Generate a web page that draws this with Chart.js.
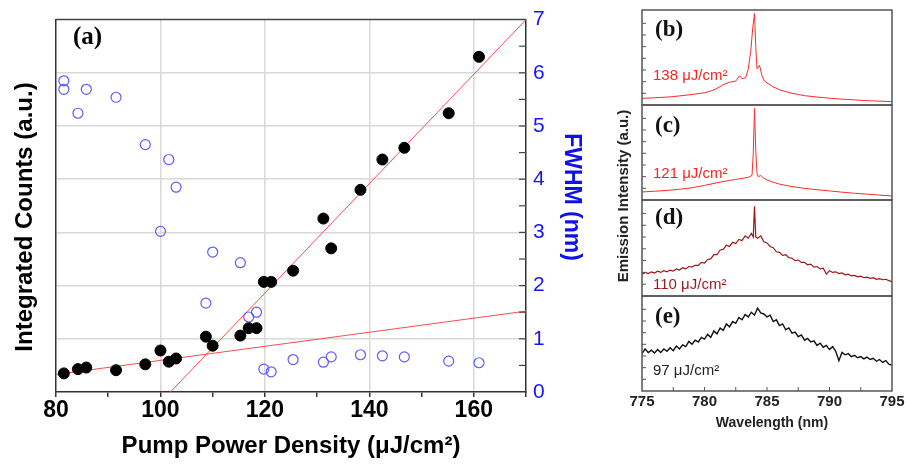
<!DOCTYPE html>
<html>
<head>
<meta charset="utf-8">
<script src="https://cdn.jsdelivr.net/npm/chart.js@4.4.1/dist/chart.umd.min.js"></script>
<style>
html, body { margin: 0; padding: 0; background: #fff; width: 906px; height: 466px; overflow: hidden; }
.box { position: absolute; }
#ytitle { position: absolute; left: 523px; top: 187px; width: 200px; height: 18px; line-height: 18px;
  text-align: center; font: bold 15px Arial, "Liberation Sans", sans-serif; color: #222; transform: rotate(-90deg); }
</style>
</head>
<body>
<div class="box" style="left:0;top:0;width:600px;height:466px"><canvas id="main"></canvas></div>
<div class="box" style="left:622px;top:4px;width:290px;height:107px"><canvas id="pb"></canvas></div>
<div class="box" style="left:622px;top:99px;width:290px;height:107px"><canvas id="pc"></canvas></div>
<div class="box" style="left:622px;top:194px;width:290px;height:108px"><canvas id="pd"></canvas></div>
<div class="box" style="left:622px;top:290px;width:290px;height:176px"><canvas id="pe"></canvas></div>
<div id="ytitle">Emission Intensity (a.u.)</div>
<script>
// ---- panel (a): threshold data ----
var pumpBlack = [81.5, 84.2, 85.8, 91.5, 97.1, 100.0, 101.6, 103.0, 108.7, 110.0, 115.3, 116.9, 118.4, 119.8, 121.2, 125.4, 131.2, 132.7, 138.3, 142.5, 146.7, 155.2, 161.0];
var counts    = [0.35, 0.43, 0.46, 0.41, 0.52, 0.78, 0.57, 0.63, 1.04, 0.87, 1.06, 1.20, 1.20, 2.07, 2.07, 2.28, 3.26, 2.70, 3.80, 4.37, 4.59, 5.24, 6.30];
var pumpBlue  = [81.5, 81.5, 84.2, 85.8, 91.5, 97.1, 100.0, 101.6, 103.0, 108.7, 110.0, 115.3, 116.9, 118.4, 119.8, 121.2, 125.4, 131.2, 132.7, 138.3, 142.5, 146.7, 155.2, 161.0];
var fwhm      = [5.85, 5.69, 5.24, 5.69, 5.54, 4.65, 3.02, 4.37, 3.85, 1.67, 2.63, 2.43, 1.41, 1.50, 0.43, 0.38, 0.61, 0.56, 0.66, 0.70, 0.68, 0.66, 0.58, 0.55];
var fitLowX  = [80, 170];
var fitLowY  = [0.33, 1.52];
var fitHighX = [101.9, 170];
var fitHighY = [0, 7.0];
var pumpTicks = ['80', '100', '120', '140', '160'];

// ---- panels (b)-(e): spectra ----
var bWave = [775, 776, 777, 777.5, 778, 779, 780, 780.5, 781, 781.5, 782, 782.5, 782.8, 783, 783.3, 783.5, 783.7, 783.85, 784, 784.1, 784.2, 784.4, 784.6, 784.8, 785, 785.5, 786, 787, 787.5, 788, 789, 790, 791, 792, 792.5, 793, 794, 795];
var bInt  = [0.57, 0.62, 0.68, 0.72, 0.78, 0.9, 1.05, 1.2, 1.42, 1.75, 1.95, 2.05, 2.5, 2.25, 2.35, 3.1, 4.6, 6.5, 7.85, 5.0, 3.1, 3.4, 2.5, 2.05, 1.9, 1.55, 1.3, 1.0, 0.9, 0.8, 0.68, 0.58, 0.5, 0.44, 0.4, 0.37, 0.33, 0.29];
var cWave = [775, 776, 777, 778, 779, 780, 781, 782, 782.5, 783, 783.5, 783.8, 783.9, 784, 784.1, 784.2, 784.3, 784.5, 784.7, 785, 785.5, 786, 787, 788, 789, 790, 791, 792, 793, 794, 795];
var cInt  = [0.69, 0.75, 0.82, 0.92, 1.05, 1.25, 1.48, 1.68, 1.76, 1.85, 1.95, 2.1, 4.0, 7.85, 4.2, 2.3, 2.0, 2.1, 1.9, 1.72, 1.52, 1.36, 1.15, 1.0, 0.88, 0.78, 0.67, 0.58, 0.5, 0.42, 0.34];
var dWave = [775, 775.25, 775.5, 775.75, 776, 776.25, 776.5, 776.75, 777, 777.25, 777.5, 777.75, 778, 778.25, 778.5, 778.75, 779, 779.25, 779.5, 779.75,
  780, 780.25, 780.5, 780.75, 781, 781.25, 781.5, 781.75, 782, 782.25, 782.5, 782.75, 783, 783.25, 783.5, 783.75, 783.9, 784, 784.1,
  784.25, 784.5, 784.75, 785, 785.25, 785.5, 785.75, 786, 786.25, 786.5, 786.75, 787, 787.25, 787.5, 787.75, 788, 788.25, 788.5, 788.75,
  789, 789.25, 789.5, 789.75, 790, 790.25, 790.5, 790.75, 791, 791.25, 791.5, 791.75, 792, 792.25, 792.5, 792.75, 793, 793.25, 793.5, 793.75,
  794, 794.25, 794.5, 794.75, 795];
var dInt  = [1.85, 2.0, 1.9, 2.05, 1.95, 2.1, 2.0, 2.15, 2.05, 2.2, 2.12, 2.3, 2.2, 2.4, 2.3, 2.5, 2.45, 2.6, 2.6, 2.85,
  2.8, 3.1, 3.15, 3.5, 3.5, 3.9, 3.95, 4.3, 4.2, 4.55, 4.45, 4.8, 4.7, 5.1, 4.9, 5.3, 5.0, 7.6, 5.0,
  4.9, 5.1, 4.6, 4.5, 4.2, 4.1, 3.75, 3.7, 3.45, 3.5, 3.25, 3.2, 3.0, 3.05, 2.85, 2.85, 2.65, 2.7, 2.45,
  2.5, 2.3, 2.35, 1.85, 2.15, 2.0, 2.05, 1.9, 1.95, 1.8, 1.85, 1.7, 1.75, 1.62, 1.68, 1.55, 1.6, 1.5, 1.55, 1.42,
  1.47, 1.38, 1.42, 1.3, 1.22];
var eWave = [775, 775.25, 775.5, 775.75, 776, 776.25, 776.5, 776.75, 777, 777.25, 777.5, 777.75, 778, 778.25, 778.5, 778.75, 779, 779.25, 779.5, 779.75,
  780, 780.25, 780.5, 780.75, 781, 781.25, 781.5, 781.75, 782, 782.25, 782.5, 782.75, 783, 783.25, 783.5, 783.75, 784, 784.25, 784.5, 784.75,
  785, 785.25, 785.5, 785.75, 786, 786.25, 786.5, 786.75, 787, 787.25, 787.5, 787.75, 788, 788.25, 788.5, 788.75, 789, 789.25, 789.5, 789.75,
  790, 790.25, 790.5, 790.75, 791, 791.25, 791.5, 791.75, 792, 792.25, 792.5, 792.75, 793, 793.25, 793.5, 793.75, 794, 794.25, 794.5, 794.75, 795];
var eInt  = [3.2, 3.6, 3.3, 3.5, 3.25, 3.55, 3.3, 3.6, 3.4, 3.7, 3.45, 3.85, 3.6, 3.95, 3.8, 4.25, 4.0, 4.35, 4.2, 4.6,
  4.45, 4.85, 4.6, 5.15, 4.9, 5.4, 5.2, 5.75, 5.5, 5.95, 5.8, 6.3, 6.1, 6.55, 6.35, 6.75, 6.5, 7.1, 6.7, 6.6,
  6.35, 6.5, 5.95, 6.1, 5.6, 5.75, 5.25, 5.4, 4.95, 5.05, 4.65, 4.8, 4.35, 4.5, 4.2, 4.3, 3.9, 4.1, 3.75, 3.9,
  3.55, 3.8, 3.4, 2.6, 3.3, 3.1, 3.2, 2.95, 3.05, 2.85, 2.95, 2.75, 2.9, 2.7, 2.8, 2.55, 2.7, 2.45, 2.6, 2.3, 2.2];
var waveTicks = ['775', '780', '785', '790', '795'];

var SANS = 'Arial, "Liberation Sans", sans-serif';
var SERIF = '"Times New Roman", "Liberation Serif", serif';

function pts(xs, ys) {
  return xs.map(function (x, i) { return { x: x, y: ys[i] }; });
}

// frame, inward ticks and titles of panel (a)
var mainDeco = {
  id: 'mainDeco',
  afterDraw: function (chart) {
    var ctx = chart.ctx, a = chart.chartArea, y1 = chart.scales.y1;
    ctx.save();
    ctx.strokeStyle = '#444';
    ctx.lineWidth = 1.5;
    ctx.beginPath();
    ctx.moveTo(a.left, a.top);
    ctx.lineTo(a.right, a.top);
    ctx.stroke();
    ctx.lineWidth = 1.2;
    for (var v = 0.5; v < 7; v += 0.5) {
      var py = y1.getPixelForValue(v);
      ctx.beginPath();
      ctx.moveTo(a.right - 7, py);
      ctx.lineTo(a.right, py);
      ctx.stroke();
    }
    ctx.fillStyle = '#000';
    ctx.font = 'bold 25px ' + SERIF;
    ctx.textBaseline = 'middle';
    ctx.fillText('(a)', 73, 38);
    ctx.font = 'bold 24px ' + SANS;
    ctx.textAlign = 'center';
    ctx.fillText('Pump Power Density (\u03bcJ/cm\u00b2)', 291, 446);
    ctx.save();
    ctx.translate(25, 217);
    ctx.rotate(-Math.PI / 2);
    ctx.fillText('Integrated Counts (a.u.)', 0, 0);
    ctx.restore();
    ctx.save();
    ctx.fillStyle = '#1010ee';
    ctx.font = 'bold 23px ' + SANS;
    ctx.translate(571, 197);
    ctx.rotate(Math.PI / 2);
    ctx.fillText('FWHM (nm)', 0, 0);
    ctx.restore();
    ctx.restore();
  }
};

new Chart(document.getElementById('main'), {
  type: 'scatter',
  data: {
    datasets: [
      { data: pts(pumpBlack, counts), yAxisID: 'y', backgroundColor: '#000', borderColor: '#000', pointRadius: 5.5, order: 1 },
      { data: pts(pumpBlue, fwhm), yAxisID: 'y1', backgroundColor: 'rgba(0,0,0,0)', borderColor: '#5c5cff', borderWidth: 1.2, pointRadius: 5, order: 2 },
      { data: pts(fitLowX, fitLowY), yAxisID: 'y', showLine: true, borderColor: '#ff4b4b', borderWidth: 1, pointRadius: 0, order: 3 },
      { data: pts(fitHighX, fitHighY), yAxisID: 'y', showLine: true, borderColor: '#ff4b4b', borderWidth: 1, pointRadius: 0, order: 3 }
    ]
  },
  options: {
    responsive: true,
    maintainAspectRatio: false,
    animation: false,
    layout: { padding: { top: 14, left: 0, right: 0, bottom: 0 } },
    plugins: { legend: { display: false }, tooltip: { enabled: false } },
    scales: {
      x: {
        type: 'linear', min: 80, max: 170,
        afterFit: function (s) { s.height = 74; },
        ticks: {
          stepSize: 10, autoSkip: false, maxRotation: 0, padding: 0, color: '#000',
          font: { family: SANS, size: 23, weight: 'bold' },
          callback: function (v) { return pumpTicks.indexOf(String(v)) >= 0 ? String(v) : ''; }
        },
        grid: {
          color: function (c) { return c.tick && c.tick.value % 20 === 0 && c.tick.value > 80 && c.tick.value < 170 ? '#d8d8d8' : 'rgba(0,0,0,0)'; },
          lineWidth: 1.5, tickColor: '#333', tickLength: 5, drawTicks: true
        },
        border: { color: '#333', width: 1.5 }
      },
      y: {
        position: 'left', min: 0, max: 7,
        afterFit: function (s) { s.width = 56; },
        ticks: { stepSize: 1, display: false },
        grid: {
          color: function (c) { return c.tick && c.tick.value > 0 && c.tick.value < 7 ? '#d8d8d8' : 'rgba(0,0,0,0)'; },
          lineWidth: 1.5, drawTicks: false
        },
        border: { color: '#333', width: 1.5 }
      },
      y1: {
        position: 'right', min: 0, max: 7,
        afterFit: function (s) { s.width = 74; },
        ticks: { stepSize: 1, padding: 7, color: '#1414ff', font: { family: SANS, size: 21 } },
        grid: { drawOnChartArea: false, drawTicks: false },
        border: { color: '#333', width: 1.5 }
      }
    }
  },
  plugins: [mainDeco]
});

// frame, inward ticks and labels of the spectra panels
var panelDeco = {
  id: 'panelDeco',
  afterDraw: function (chart, args, o) {
    var ctx = chart.ctx, a = chart.chartArea, x = chart.scales.x, y = chart.scales.y;
    ctx.save();
    ctx.strokeStyle = '#555';
    ctx.lineWidth = 1.5;
    ctx.strokeRect(a.left, a.top, a.right - a.left, a.bottom - a.top);
    ctx.lineWidth = 1;
    for (var v = 1; v <= 8; v++) {
      var py = y.getPixelForValue(v);
      if (py <= a.top + 2) continue;
      ctx.beginPath();
      ctx.moveTo(a.left, py);
      ctx.lineTo(a.left + 4, py);
      ctx.stroke();
    }
    if (o.bottomTicks) {
      for (var w = 777.5; w < 795; w += 2.5) {
        var px = x.getPixelForValue(w);
        ctx.beginPath();
        ctx.moveTo(px, a.bottom);
        ctx.lineTo(px, a.bottom - 4);
        ctx.stroke();
      }
      ctx.fillStyle = '#222';
      ctx.font = 'bold 14px ' + SANS;
      ctx.textAlign = 'center';
      ctx.textBaseline = 'middle';
      ctx.fillText('Wavelength (nm)', (a.left + a.right) / 2 + 5, a.bottom + 32);
    }
    ctx.textAlign = 'left';
    ctx.textBaseline = 'middle';
    ctx.fillStyle = '#111';
    ctx.font = 'bold 23px ' + SERIF;
    ctx.fillText(o.tag, a.left + 13, a.top + o.tagY);
    ctx.fillStyle = o.textColor;
    ctx.font = '15px ' + SANS;
    ctx.fillText(o.label, a.left + 11, a.top + o.labelY);
    ctx.restore();
  }
};

function panel(id, wave, vals, color, width, deco, withAxis) {
  var xScale = {
    type: 'linear', min: 775, max: 795, display: withAxis,
    ticks: {
      stepSize: 5, autoSkip: false, maxRotation: 0, padding: 2, color: '#222',
      font: { family: SANS, size: 15, weight: 'bold' },
      callback: function (v) { return waveTicks.indexOf(String(v)) >= 0 ? String(v) : ''; }
    },
    grid: { drawOnChartArea: false, drawTicks: false },
    border: { display: false }
  };
  if (withAxis) {
    xScale.afterFit = function (s) { s.height = 75; };
  }
  new Chart(document.getElementById(id), {
    type: 'line',
    data: { datasets: [{ data: pts(wave, vals), borderColor: color, borderWidth: width, pointRadius: 0, tension: 0 }] },
    options: {
      responsive: true,
      maintainAspectRatio: false,
      animation: false,
      layout: { padding: { top: 6, left: 20, right: 20, bottom: withAxis ? 0 : 6 } },
      plugins: { legend: { display: false }, tooltip: { enabled: false }, panelDeco: deco },
      scales: {
        x: xScale,
        y: { min: 0, max: 8.14, display: false }
      }
    },
    plugins: [panelDeco]
  });
}

panel('pb', bWave, bInt, '#ff2a2a', 1, { tag: '(b)', tagY: 20, label: '138 \u03bcJ/cm\u00b2', labelY: 66, textColor: '#ff2020' }, false);
panel('pc', cWave, cInt, '#ff2a2a', 1, { tag: '(c)', tagY: 21, label: '121 \u03bcJ/cm\u00b2', labelY: 69, textColor: '#ff2020' }, false);
panel('pd', dWave, dInt, '#a01515', 1.2, { tag: '(d)', tagY: 18, label: '110 \u03bcJ/cm\u00b2', labelY: 85, textColor: '#9a1a1a' }, false);
panel('pe', eWave, eInt, '#111111', 1.4, { tag: '(e)', tagY: 21, label: '97 \u03bcJ/cm\u00b2', labelY: 75, textColor: '#222', bottomTicks: true }, true);
</script>
</body>
</html>
